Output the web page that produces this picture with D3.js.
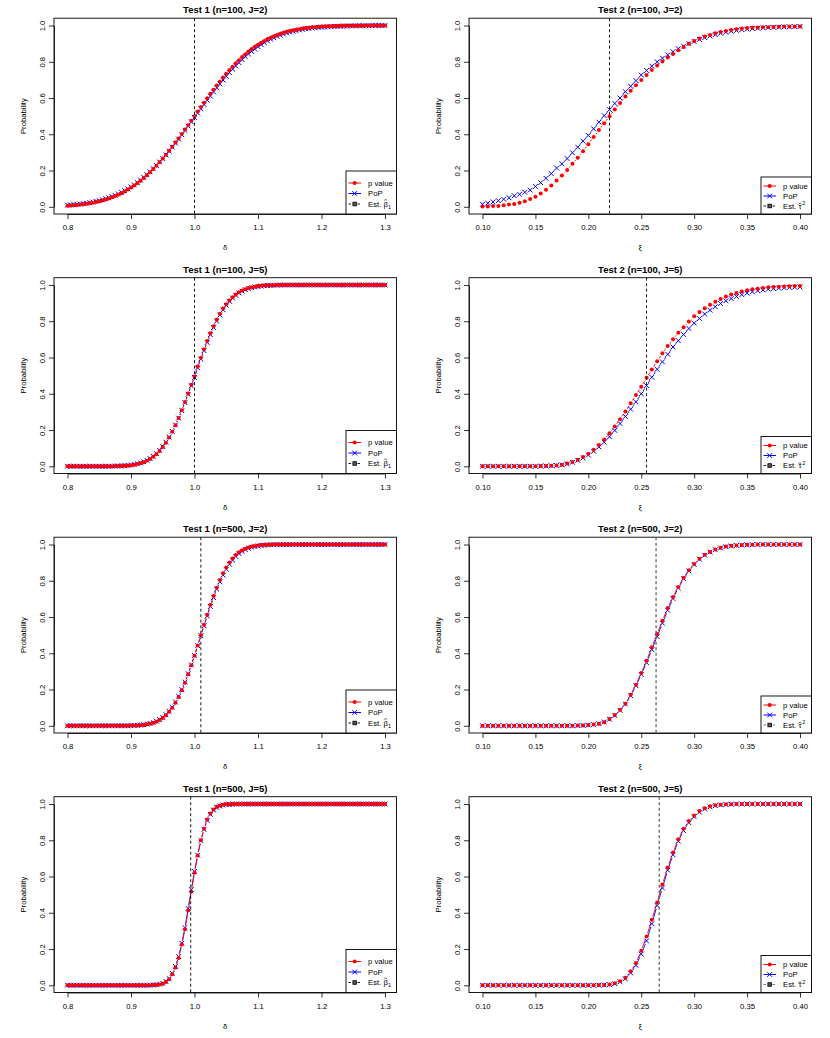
<!DOCTYPE html>
<html>
<head>
<meta charset="utf-8">
<script src="https://cdn.jsdelivr.net/npm/d3@7"></script>
<style>
  body { margin: 0; background: #fff; }
  text { font-family: "Liberation Sans", Arial, Helvetica, sans-serif; fill: #000; }
</style>
</head>
<body>
<svg id="chart" width="830" height="1038"></svg>
<script>
// x grids (evaluation points) and tick labels
const deltaStart = 0.8, deltaStep = 0.005, deltaCount = 101;
const xiStart = 0.10, xiStep = 0.005, xiCount = 61;
const deltaGrid = d3.range(deltaCount).map(i => +(deltaStart + i * deltaStep).toFixed(3));
const xiGrid = d3.range(xiCount).map(i => +(xiStart + i * xiStep).toFixed(3));
const deltaTicks = [0.8, 0.9, 1.0, 1.1, 1.2, 1.3];
const xiTicks = [0.10, 0.15, 0.20, 0.25, 0.30, 0.35, 0.40];
const probTicks = [0, 0.2, 0.4, 0.6, 0.8, 1.0];

// Test 1 (n=100, J=2)
const pvalT1n100J2 = [0.006,0.007,0.009,0.010,0.012,0.014,0.017,0.020,0.023,0.026,
  0.030,0.035,0.040,0.046,0.052,0.059,0.067,0.075,0.085,0.095,
  0.106,0.117,0.130,0.144,0.159,0.174,0.191,0.208,0.227,0.246,
  0.266,0.287,0.309,0.331,0.354,0.377,0.401,0.426,0.450,0.475,
  0.500,0.525,0.550,0.574,0.599,0.623,0.646,0.669,0.691,0.713,
  0.734,0.754,0.773,0.792,0.809,0.826,0.841,0.856,0.870,0.883,
  0.894,0.905,0.915,0.925,0.933,0.941,0.948,0.954,0.960,0.965,
  0.970,0.974,0.977,0.980,0.983,0.986,0.988,0.990,0.991,0.993,
  0.994,0.995,0.996,0.996,0.997,0.997,0.998,0.998,0.998,0.999,
  0.999,0.999,0.999,0.999,1,1,1,1,1,1,
  1];
const popT1n100J2 = [0.009,0.010,0.012,0.013,0.015,0.017,0.020,0.023,0.026,0.030,
  0.034,0.039,0.044,0.050,0.056,0.063,0.071,0.080,0.089,0.099,
  0.110,0.121,0.134,0.147,0.162,0.177,0.193,0.210,0.228,0.247,
  0.266,0.286,0.307,0.329,0.351,0.374,0.397,0.421,0.445,0.469,
  0.493,0.517,0.541,0.564,0.588,0.611,0.634,0.656,0.678,0.699,
  0.720,0.740,0.759,0.777,0.795,0.812,0.828,0.843,0.857,0.870,
  0.883,0.894,0.905,0.915,0.924,0.932,0.940,0.947,0.953,0.959,
  0.964,0.968,0.972,0.976,0.979,0.982,0.984,0.986,0.988,0.990,
  0.991,0.992,0.993,0.994,0.995,0.996,0.996,0.997,0.997,0.998,
  0.998,0.998,0.999,0.999,0.999,0.999,0.999,1,1,1,
  1];

// Test 1 (n=100, J=5)
const pvalT1n100J5 = [0,0,0,0,0,0,0,0,0,0,
  0,0,0,0,0,0.001,0.001,0.002,0.003,0.004,
  0.006,0.009,0.012,0.017,0.023,0.030,0.040,0.052,0.067,0.085,
  0.106,0.130,0.159,0.191,0.227,0.266,0.309,0.354,0.401,0.450,
  0.495,0.550,0.599,0.646,0.691,0.734,0.773,0.809,0.841,0.870,
  0.894,0.915,0.933,0.948,0.960,0.970,0.977,0.983,0.988,0.991,
  0.994,0.996,0.997,0.998,0.999,0.999,1,1,1,1,
  1,1,1,1,1,1,1,1,1,1,
  1,1,1,1,1,1,1,1,1,1,
  1,1,1,1,1,1,1,1,1,1,
  1];
const popT1n100J5 = [0,0,0,0,0,0,0,0,0,0,
  0,0,0,0,0.001,0.001,0.002,0.002,0.003,0.005,
  0.007,0.010,0.014,0.019,0.025,0.033,0.043,0.055,0.070,0.088,
  0.109,0.133,0.161,0.193,0.228,0.266,0.307,0.351,0.397,0.444,
  0.490,0.543,0.591,0.638,0.683,0.726,0.765,0.801,0.834,0.863,
  0.888,0.910,0.928,0.943,0.956,0.966,0.974,0.980,0.985,0.989,
  0.992,0.994,0.996,0.997,0.998,0.999,0.999,1,1,1,
  1,1,1,1,1,1,1,1,1,1,
  1,1,1,1,1,1,1,1,1,1,
  1,1,1,1,1,1,1,1,1,1,
  1];

// Test 1 (n=500, J=2)
const pvalT1n500J2 = [0,0,0,0,0,0,0,0,0,0,
  0,0,0,0,0,0,0,0,0,0,
  0.001,0.001,0.002,0.003,0.005,0.008,0.011,0.016,0.023,0.032,
  0.043,0.058,0.077,0.099,0.127,0.159,0.196,0.238,0.284,0.334,
  0.387,0.443,0.500,0.557,0.613,0.666,0.716,0.762,0.804,0.841,
  0.873,0.901,0.923,0.942,0.957,0.968,0.977,0.984,0.989,0.992,
  0.995,0.997,0.998,0.999,0.999,1,1,1,1,1,
  1,1,1,1,1,1,1,1,1,1,
  1,1,1,1,1,1,1,1,1,1,
  1,1,1,1,1,1,1,1,1,1,
  1];
const popT1n500J2 = [0,0,0,0,0,0,0,0,0,0,
  0,0,0,0,0,0,0,0,0,0,
  0.001,0.002,0.003,0.004,0.006,0.009,0.013,0.018,0.025,0.034,
  0.046,0.061,0.080,0.103,0.131,0.163,0.200,0.241,0.287,0.336,
  0.388,0.442,0.497,0.552,0.606,0.658,0.707,0.753,0.794,0.831,
  0.863,0.891,0.914,0.934,0.950,0.962,0.972,0.980,0.985,0.989,
  0.992,0.995,0.996,0.998,0.999,0.999,1,1,1,1,
  1,1,1,1,1,1,1,1,1,1,
  1,1,1,1,1,1,1,1,1,1,
  1,1,1,1,1,1,1,1,1,1,
  1];

// Test 1 (n=500, J=5)
const pvalT1n500J5 = [0,0,0,0,0,0,0,0,0,0,
  0,0,0,0,0,0,0,0,0,0,
  0,0,0,0,0,0,0,0.001,0.002,0.005,
  0.009,0.018,0.033,0.061,0.098,0.151,0.225,0.309,0.413,0.516,
  0.621,0.716,0.800,0.864,0.915,0.948,0.970,0.985,0.992,0.996,
  0.998,0.999,1,1,1,1,1,1,1,1,
  1,1,1,1,1,1,1,1,1,1,
  1,1,1,1,1,1,1,1,1,1,
  1,1,1,1,1,1,1,1,1,1,
  1,1,1,1,1,1,1,1,1,1,
  1];
const popT1n500J5 = [0,0,0,0,0,0,0,0,0,0,
  0,0,0,0,0,0,0,0,0,0,
  0,0,0,0,0,0,0.001,0.002,0.003,0.006,
  0.011,0.021,0.037,0.066,0.104,0.158,0.232,0.318,0.424,0.528,
  0.628,0.718,0.798,0.860,0.909,0.943,0.966,0.981,0.989,0.994,
  0.997,0.998,0.999,1,1,1,1,1,1,1,
  1,1,1,1,1,1,1,1,1,1,
  1,1,1,1,1,1,1,1,1,1,
  1,1,1,1,1,1,1,1,1,1,
  1,1,1,1,1,1,1,1,1,1,
  1];

// Test 2 (n=100, J=2)
const pvalT2n100J2 = [0.002,0.002,0.004,0.005,0.009,0.013,0.016,0.022,0.031,0.043,
  0.056,0.074,0.094,0.118,0.145,0.172,0.203,0.237,0.271,0.307,
  0.345,0.385,0.423,0.461,0.499,0.537,0.573,0.608,0.640,0.671,
  0.700,0.727,0.754,0.779,0.801,0.823,0.843,0.863,0.882,0.900,
  0.915,0.928,0.939,0.948,0.957,0.964,0.969,0.975,0.980,0.984,
  0.986,0.988,0.989,0.990,0.991,0.992,0.993,0.994,0.994,0.995,
  0.995];
const popT2n100J2 = [0.014,0.020,0.027,0.034,0.042,0.050,0.061,0.069,0.080,0.092,
  0.112,0.133,0.157,0.183,0.214,0.237,0.266,0.298,0.329,0.362,
  0.394,0.430,0.467,0.503,0.536,0.570,0.600,0.635,0.665,0.696,
  0.727,0.752,0.776,0.800,0.820,0.838,0.855,0.872,0.886,0.900,
  0.912,0.923,0.933,0.942,0.950,0.957,0.963,0.968,0.973,0.977,
  0.980,0.983,0.985,0.987,0.989,0.990,0.991,0.992,0.993,0.994,
  0.995];

// Test 2 (n=100, J=5)
const pvalT2n100J5 = [0,0,0,0,0,0,0,0,0,0,
  0,0.001,0.002,0.003,0.005,0.009,0.015,0.024,0.036,0.051,
  0.069,0.091,0.118,0.148,0.182,0.220,0.260,0.302,0.348,0.393,
  0.439,0.488,0.534,0.579,0.623,0.663,0.701,0.736,0.767,0.798,
  0.827,0.851,0.872,0.891,0.907,0.923,0.936,0.947,0.956,0.964,
  0.971,0.976,0.980,0.984,0.987,0.989,0.991,0.992,0.993,0.994,
  0.995];
const popT2n100J5 = [0,0,0,0,0,0,0,0,0,0,
  0,0.001,0.002,0.003,0.005,0.008,0.013,0.022,0.033,0.046,
  0.062,0.083,0.107,0.133,0.163,0.198,0.236,0.275,0.315,0.356,
  0.400,0.445,0.491,0.535,0.576,0.618,0.658,0.693,0.727,0.760,
  0.790,0.815,0.840,0.861,0.880,0.898,0.913,0.925,0.937,0.947,
  0.955,0.962,0.968,0.973,0.977,0.980,0.983,0.985,0.987,0.988,
  0.989];

// Test 2 (n=500, J=2)
const pvalT2n500J2 = [0,0,0,0,0,0,0,0,0,0,
  0,0,0,0,0,0,0,0,0.001,0.002,
  0.004,0.007,0.011,0.020,0.037,0.059,0.088,0.122,0.171,0.227,
  0.291,0.359,0.433,0.506,0.580,0.650,0.711,0.766,0.816,0.858,
  0.893,0.921,0.943,0.959,0.972,0.982,0.989,0.993,0.995,0.997,
  0.998,0.999,1,1,1,1,1,1,1,1,
  1];
const popT2n500J2 = [0,0,0,0,0,0,0,0,0,0,
  0,0,0,0,0,0,0,0,0.001,0.002,
  0.004,0.007,0.012,0.021,0.036,0.057,0.085,0.120,0.166,0.221,
  0.283,0.348,0.420,0.492,0.566,0.637,0.702,0.760,0.811,0.854,
  0.890,0.919,0.941,0.958,0.971,0.981,0.988,0.992,0.995,0.997,
  0.998,0.999,1,1,1,1,1,1,1,1,
  1];

// Test 2 (n=500, J=5)
const pvalT2n500J5 = [0,0,0,0,0,0,0,0,0,0,
  0,0,0,0,0,0,0,0,0,0,
  0,0,0.001,0.002,0.004,0.011,0.022,0.042,0.077,0.123,
  0.190,0.269,0.361,0.457,0.556,0.650,0.733,0.805,0.864,0.906,
  0.937,0.961,0.976,0.987,0.993,0.996,0.998,0.999,1,1,
  1,1,1,1,1,1,1,1,1,1,
  1];
const popT2n500J5 = [0,0,0,0,0,0,0,0,0,0,
  0,0,0,0,0,0,0,0,0,0,
  0,0,0.001,0.002,0.004,0.009,0.019,0.036,0.068,0.110,
  0.172,0.245,0.340,0.440,0.537,0.635,0.720,0.795,0.853,0.897,
  0.930,0.955,0.972,0.984,0.991,0.995,0.997,0.999,1,1,
  1,1,1,1,1,1,1,1,1,1,
  1];

// estimated values (dashed vertical lines)
const estT1 = [1.000, 1.000, 1.010, 0.994];
const estT2 = [0.220, 0.255, 0.264, 0.267];
const settings = ["(n=100, J=2)", "(n=100, J=5)", "(n=500, J=2)", "(n=500, J=5)"];

const panels = [
  {row: 0, col: 0, test: 1, title: "Test 1 " + settings[0], p: pvalT1n100J2, pop: popT1n100J2, est: estT1[0]},
  {row: 0, col: 1, test: 2, title: "Test 2 " + settings[0], p: pvalT2n100J2, pop: popT2n100J2, est: estT2[0]},
  {row: 1, col: 0, test: 1, title: "Test 1 " + settings[1], p: pvalT1n100J5, pop: popT1n100J5, est: estT1[1]},
  {row: 1, col: 1, test: 2, title: "Test 2 " + settings[1], p: pvalT2n100J5, pop: popT2n100J5, est: estT2[1]},
  {row: 2, col: 0, test: 1, title: "Test 1 " + settings[2], p: pvalT1n500J2, pop: popT1n500J2, est: estT1[2]},
  {row: 2, col: 1, test: 2, title: "Test 2 " + settings[2], p: pvalT2n500J2, pop: popT2n500J2, est: estT2[2], estColor: "#666"},
  {row: 3, col: 0, test: 1, title: "Test 1 " + settings[3], p: pvalT1n500J5, pop: popT1n500J5, est: estT1[3]},
  {row: 3, col: 1, test: 2, title: "Test 2 " + settings[3], p: pvalT2n500J5, pop: popT2n500J5, est: estT2[3], estColor: "#666"}
];

const cellW = 415, cellH = 259.5;
const box = {l: 54, r: 396.5, t: 18.2, b: 214};
const fs = 7.7;
const gap = 3.3;   // R type="b": line stops short of each point
const cs = 2.4;    // half size of the PoP cross

const svg = d3.select("#chart");

function crossPath(cx, cy) {
  return "M" + (cx - cs) + "," + (cy - cs) + "L" + (cx + cs) + "," + (cy + cs) +
         "M" + (cx - cs) + "," + (cy + cs) + "L" + (cx + cs) + "," + (cy - cs);
}

// segments between consecutive points, trimmed by the gap at both ends
function gappedPath(pts) {
  let d = "";
  for (let i = 1; i < pts.length; i++) {
    const [x0, y0] = pts[i - 1], [x1, y1] = pts[i];
    const len = Math.hypot(x1 - x0, y1 - y0);
    if (len <= 2 * gap) continue;
    const ux = (x1 - x0) / len, uy = (y1 - y0) / len;
    d += "M" + (x0 + ux * gap) + "," + (y0 + uy * gap) + "L" + (x1 - ux * gap) + "," + (y1 - uy * gap);
  }
  return d;
}

panels.forEach(function (pn) {
  const grid = pn.test === 1 ? deltaGrid : xiGrid;
  const g = svg.append("g")
    .attr("transform", "translate(" + (pn.col * cellW) + "," + (pn.row * cellH) + ")");

  const x = d3.scaleLinear()
    .domain(pn.test === 1 ? [0.8, 1.3] : [0.10, 0.40])
    .range([67.5, 385]);
  const y = d3.scaleLinear().domain([0, 1]).range([206.8, 25.5]);

  // title
  g.append("text")
    .attr("x", (box.l + box.r) / 2).attr("y", 13.3)
    .attr("text-anchor", "middle")
    .style("font-size", "9.5px").style("font-weight", "bold")
    .text(pn.title);

  // axes
  const xAxis = d3.axisBottom(x)
    .tickValues(pn.test === 1 ? deltaTicks : xiTicks)
    .tickFormat(d3.format(pn.test === 1 ? ".1f" : ".2f"))
    .tickSizeInner(5).tickSizeOuter(0).tickPadding(6);
  const xg = g.append("g").attr("transform", "translate(0," + box.b + ")").call(xAxis);
  xg.selectAll("text").style("font-size", fs + "px").style("font-family", null);

  const yAxis = d3.axisLeft(y)
    .tickValues(probTicks)
    .tickFormat(d3.format(".1f"))
    .tickSizeInner(5).tickSizeOuter(0);
  const yg = g.append("g").attr("transform", "translate(" + box.l + ",0)").call(yAxis);
  yg.selectAll("text")
    .attr("x", null).attr("dy", null)
    .attr("text-anchor", "middle")
    .attr("transform", "translate(-9,0) rotate(-90)")
    .style("font-size", fs + "px").style("font-family", null);
  g.selectAll(".domain, .tick line").attr("stroke", "#000").attr("stroke-width", 0.8);

  // axis titles
  g.append("text")
    .attr("x", (box.l + box.r) / 2).attr("y", 250)
    .attr("text-anchor", "middle").style("font-size", fs + "px")
    .text(pn.test === 1 ? "δ" : "ξ");
  g.append("text")
    .attr("transform", "translate(26," + ((box.t + box.b) / 2) + ") rotate(-90)")
    .attr("text-anchor", "middle").style("font-size", fs + "px")
    .text("Probability");

  // plot box
  g.append("rect")
    .attr("x", box.l).attr("y", box.t)
    .attr("width", box.r - box.l).attr("height", box.b - box.t)
    .attr("fill", "none").attr("stroke", "#000").attr("stroke-width", 0.9);

  const plot = g.append("g");
  const pData = grid.map((v, i) => [v, pn.p[i]]).filter(d => d[1] !== undefined);
  const popData = grid.map((v, i) => [v, pn.pop[i]]).filter(d => d[1] !== undefined);

  plot.append("path")
    .attr("d", gappedPath(popData.map(d => [x(d[0]), y(d[1])])))
    .attr("fill", "none").attr("stroke", "#0000ff").attr("stroke-width", 0.9);
  plot.append("path")
    .attr("d", gappedPath(pData.map(d => [x(d[0]), y(d[1])])))
    .attr("fill", "none").attr("stroke", "#ff0000").attr("stroke-width", 0.9);

  // PoP crosses
  plot.selectAll(".pop").data(popData).enter().append("path")
    .attr("class", "pop")
    .attr("d", d => crossPath(x(d[0]), y(d[1])))
    .attr("stroke", "#0000ff").attr("stroke-width", 1).attr("fill", "none");

  // p value dots
  plot.selectAll(".pv").data(pData).enter().append("circle")
    .attr("class", "pv")
    .attr("cx", d => x(d[0])).attr("cy", d => y(d[1]))
    .attr("r", 2).attr("fill", "#ff0000");

  // estimate line
  const estColor = pn.estColor || "#000";
  plot.append("line")
    .attr("x1", x(pn.est)).attr("x2", x(pn.est))
    .attr("y1", box.t).attr("y2", box.b)
    .attr("stroke", estColor).attr("stroke-width", pn.estColor ? 1.3 : 0.9)
    .attr("stroke-dasharray", "3,2.5");

  // legend
  const legTop = pn.test === 1 ? 171 : 177;
  const rows = pn.test === 1 ? [183, 193.5, 204] : [186, 196, 206];
  const leg = g.append("g");
  leg.append("rect")
    .attr("x", 346).attr("y", legTop)
    .attr("width", box.r - 346).attr("height", box.b - legTop)
    .attr("fill", "#fff").attr("stroke", "#000").attr("stroke-width", 0.9);
  const lx0 = 348.5, lx1 = 361, mx = 354.7, tx = 368;

  leg.append("line").attr("x1", lx0).attr("x2", lx1).attr("y1", rows[0]).attr("y2", rows[0])
    .attr("stroke", "#ff0000").attr("stroke-width", 1);
  leg.append("circle").attr("cx", mx).attr("cy", rows[0]).attr("r", 2).attr("fill", "#ff0000");
  leg.append("line").attr("x1", lx0).attr("x2", lx1).attr("y1", rows[1]).attr("y2", rows[1])
    .attr("stroke", "#0000ff").attr("stroke-width", 1);
  leg.append("path").attr("d", crossPath(mx, rows[1]))
    .attr("stroke", "#0000ff").attr("stroke-width", 1);
  leg.append("line").attr("x1", lx0).attr("x2", lx1).attr("y1", rows[2]).attr("y2", rows[2])
    .attr("stroke", estColor).attr("stroke-width", 0.9).attr("stroke-dasharray", "2.5,2");
  leg.append("rect").attr("x", mx - 1.8).attr("y", rows[2] - 1.8).attr("width", 3.6).attr("height", 3.6)
    .attr("fill", "#555").attr("stroke", "#000").attr("stroke-width", 0.8);

  leg.append("text").attr("x", tx).attr("y", rows[0]).attr("dy", "0.35em")
    .style("font-size", fs + "px").text("p value");
  leg.append("text").attr("x", tx).attr("y", rows[1]).attr("dy", "0.35em")
    .style("font-size", fs + "px").text("PoP");
  const est = leg.append("text").attr("x", tx).attr("y", rows[2]).attr("dy", "0.35em")
    .style("font-size", fs + "px");
  est.append("tspan").text("Est. ");
  est.append("tspan").text(pn.test === 1 ? "β" : "τ");
  est.append("tspan")
    .attr("dx", pn.test === 1 ? 0.2 : 0.9)
    .attr("dy", pn.test === 1 ? 2 : -3.2)
    .style("font-size", "5.5px")
    .text(pn.test === 1 ? "1" : "2");
  // hat over the symbol, drawn as a small chevron
  const ext = est.node().getExtentOfChar(5);
  const hx = ext.x + ext.width / 2;
  const hy = pn.test === 1 ? ext.y - 0.2 : ext.y + 1.6;
  leg.append("path")
    .attr("d", "M" + (hx - 1.4) + "," + (hy + 1.2) + "L" + hx + "," + (hy - 0.3) + "L" + (hx + 1.4) + "," + (hy + 1.2))
    .attr("fill", "none").attr("stroke", "#000").attr("stroke-width", 0.6);
});
</script>
</body>
</html>
